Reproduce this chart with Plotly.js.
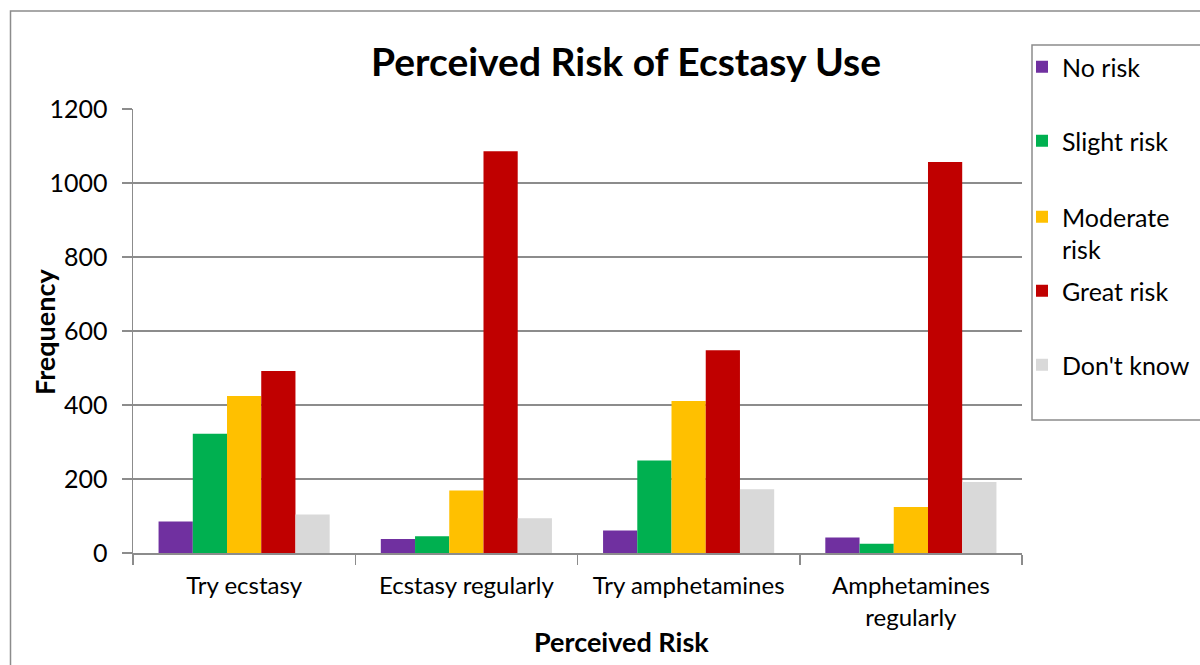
<!DOCTYPE html>
<html>
<head>
<meta charset="utf-8">
<script src="https://cdn.plot.ly/plotly-3.0.1.min.js"></script>
<style>html,body{margin:0;padding:0;background:#fff;}#chart{width:1200px;height:665px;}</style>
</head>
<body>
<div id="chart"></div>
<script>
const categories = ['Try ecstasy', 'Ecstasy regularly', 'Try amphetamines', 'Amphetamines<br>regularly'];
const seriesNames = ['No risk', 'Slight risk', 'Moderate<br>risk', 'Great risk', "Don't know"];
const noRisk = [85, 38, 61, 42];
const slightRisk = [322, 45, 250, 25];
const moderateRisk = [424, 169, 411, 124];
const greatRisk = [492, 1086, 548, 1057];
const dontKnow = [104, 94, 172, 192];
const yTickVals = [0, 200, 400, 600, 800, 1000, 1200];
const yTickText = ['0', '200', '400', '600', '800', '1000', '1200'];
const chartTitle = 'Perceived Risk of Ecstasy Use';
const xTitle = 'Perceived Risk';
const yTitle = 'Frequency';

const seriesValues = [noRisk, slightRisk, moderateRisk, greatRisk, dontKnow];
const colors = ['#7030A0', '#00B050', '#FFC000', '#C00000', '#D9D9D9'];
const FONT = 'Lato, "Open Sans", sans-serif';

// plot area in pixels: x 133..1022, y 109..553
const L = 133, R = 1022, T = 109, B = 553;
const px = x => (x - L) / (R - L);
const py = y => (B - y) / (B - T);

const legendCenters = [68, 142, 218, 292, 366];
const traces = seriesValues.map((vals, i) => ({
  type: 'bar',
  name: seriesNames[i],
  x: categories,
  y: vals,
  marker: {color: colors[i], line: {width: 0}},
  legend: i === 0 ? 'legend' : 'legend' + (i + 1),
  showlegend: true,
  hoverinfo: 'x+y+name'
}));

const layout = {
  width: 1200,
  height: 665,
  margin: {l: L, r: 1200 - R, t: T, b: 665 - B},
  paper_bgcolor: '#ffffff',
  plot_bgcolor: '#ffffff',
  font: {family: FONT, size: 22, color: '#000'},
  showlegend: true,
  barmode: 'group',
  bargap: 0.23,
  bargroupgap: 0,
  title: {
    text: '<b>' + chartTitle + '</b>',
    font: {family: FONT, size: 39, color: '#000'},
    x: px(626), xref: 'paper', xanchor: 'center',
    y: 1 - 62 / 665, yref: 'container', yanchor: 'middle'
  },
  xaxis: {
    type: 'category',
    showline: true, linecolor: '#8c8c8c', linewidth: 1.5,
    ticks: 'outside', tickson: 'boundaries', ticklen: 10, tickcolor: '#8c8c8c', tickwidth: 1.5,
    tickfont: {family: FONT, size: 24, color: '#000'},
    ticklabelstandoff: 11,
    showgrid: false,
    automargin: false
  },
  yaxis: {
    range: [0, 1200],
    tickvals: yTickVals, ticktext: yTickText,
    showline: true, linecolor: '#8c8c8c', linewidth: 1.5,
    ticks: 'outside', ticklen: 10, tickcolor: '#8c8c8c', tickwidth: 1.5,
    tickfont: {family: FONT, size: 25, color: '#000'},
    ticklabelstandoff: 9,
    showgrid: true, gridcolor: '#8c8c8c', gridwidth: 1.5,
    zeroline: false,
    automargin: false
  },
  annotations: [
    {text: '<b>' + xTitle + '</b>', xref: 'paper', yref: 'paper', x: px(621), y: py(641),
     xanchor: 'center', yanchor: 'middle', showarrow: false, font: {family: FONT, size: 27, color: '#000'}},
    {text: '<b>' + yTitle + '</b>', xref: 'paper', yref: 'paper', x: px(44), y: py(332),
     xanchor: 'center', yanchor: 'middle', textangle: -90, showarrow: false, font: {family: FONT, size: 27, color: '#000'}}
  ],
  shapes: [
    {type: 'rect', xref: 'paper', yref: 'paper', x0: px(10.5), x1: px(1230), y0: py(700), y1: py(11),
     line: {color: '#8c8c8c', width: 1.5}, fillcolor: 'rgba(0,0,0,0)', layer: 'below'},
    {type: 'rect', xref: 'paper', yref: 'paper', x0: px(1032), x1: px(1230), y0: py(420), y1: py(45),
     line: {color: '#8c8c8c', width: 1.5}, fillcolor: 'rgba(0,0,0,0)'}
  ]
};

legendCenters.forEach((c, i) => {
  const key = i === 0 ? 'legend' : 'legend' + (i + 1);
  layout[key] = {
    xref: 'container', yref: 'container',
    x: 1022 / 1200, xanchor: 'left',
    y: 1 - (c - 24) / 665, yanchor: 'top',
    bgcolor: 'rgba(0,0,0,0)', borderwidth: 0,
    font: {family: FONT, size: 25, color: '#000'},
    valign: 'top',
    visible: true
  };
});

Plotly.newPlot('chart', traces, layout, {displayModeBar: false, staticPlot: true});
</script>
</body>
</html>
